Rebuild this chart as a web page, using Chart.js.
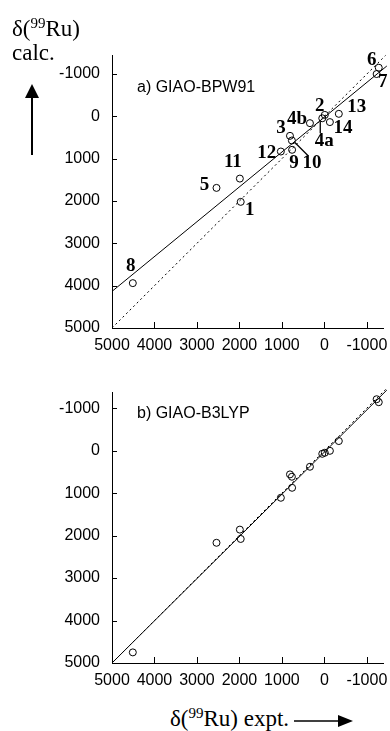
<!DOCTYPE html>
<html>
<head>
<meta charset="utf-8">
<script src="https://cdn.jsdelivr.net/npm/chart.js@4.4.1/dist/chart.umd.min.js"></script>
<style>
  body { margin: 0; background: #fff; }
  #page { position: relative; width: 390px; height: 731px; overflow: hidden; background: #fff; }
  canvas { position: absolute; left: 0; }
  #chartA { top: 0; }
  #chartB { top: 365px; }
  .axis-title { position: absolute; font-family: 'Liberation Serif', 'DejaVu Serif', serif; font-size: 23px; line-height: 22px; color: #000; white-space: nowrap; }
  .axis-title .sup { font-size: 15px; position: relative; top: -8px; }
  .panel { position: absolute; font-family: 'Liberation Sans', Arial, sans-serif; font-size: 16px; line-height: 16px; color: #000; white-space: nowrap; }
  svg { position: absolute; left: 0; top: 0; }
</style>
</head>
<body>
<div id="page">
  <canvas id="chartA" width="390" height="365"></canvas>
  <canvas id="chartB" width="390" height="335"></canvas>

  <div class="axis-title" style="left:12px; top:18px;">δ(<span class="sup">99</span>Ru)</div>
  <div class="axis-title" style="left:12px; top:42px;">calc.</div>
  <div class="axis-title" style="left:170px; top:708px;">δ(<span class="sup">99</span>Ru) expt.</div>

  <div class="panel" style="left:137px; top:79px;">a) GIAO-BPW91</div>
  <div class="panel" style="left:137px; top:405px;">b) GIAO-B3LYP</div>

  <svg width="390" height="731">
    <line x1="32" y1="155" x2="32" y2="97" stroke="#000" stroke-width="2"/>
    <polygon points="25,98 39,98 32,84" fill="#000"/>
    <line x1="294" y1="721" x2="339" y2="721" stroke="#000" stroke-width="1.5"/>
    <polygon points="338,715 338,727 353,721" fill="#000"/>
  </svg>
</div>

<script>
// Compounds, in the same order for both panels
const pointNames = ['6', '7', '2', '4a', '14', '13', '4b', '3', '10', '9', '12', '11', '5', '1', '8'];
const exptShift = [-1280, -1230, -10, 50, -130, -340, 340, 810, 765, 760, 1025, 1990, 2540, 1970, 4510];
const calcBPW91 = [-1150, -1000, -35, 45, 135, -60, 160, 460, 570, 790, 830, 1470, 1690, 2020, 3940];
const calcB3LYP = [-1140, -1210, 50, 75, 5, -225, 380, 560, 615, 875, 1110, 1860, 2170, 2080, 4750];

// Regression lines (end points) and the ideal y = x line
const fitBPW91X = [5000, -1470];
const fitBPW91Y = [4135, -1190];
const fitB3LYPX = [5000, -1470];
const fitB3LYPY = [5000, -1425];
const idealX = [5000, -1440];

const xTicks = [5000, 4000, 3000, 2000, 1000, 0, -1000];
const yTicks = [-1000, 0, 1000, 2000, 3000, 4000, 5000];

// where each compound number sits, in pixels from its circle
const nameOffsets = [[-7, -8], [6, 8], [-5, -9], [2, 23], [13, 6], [18, -7], [-13, -4], [-9, -8],
                     [20, 23], [2, 13], [-14, 2], [-7, -16], [-12, -3], [9, 8], [-2, -17]];
const leaders = { '4a': [-2, 3, -2, 15], '10': [3, 2, 16, 15] };

const tickFont = { family: "'Liberation Sans', Arial, sans-serif", size: 16 };

// tick marks pointing into the plot
const innerTicks = {
    id: 'innerTicks',
    afterDraw(chart) {
        const { ctx, chartArea: a, scales: { x, y } } = chart;
        ctx.save();
        ctx.strokeStyle = '#000';
        ctx.lineWidth = 1;
        ctx.beginPath();
        x.ticks.forEach(t => {
            const px = Math.round(x.getPixelForValue(t.value)) + 0.5;
            ctx.moveTo(px, a.bottom);
            ctx.lineTo(px, a.bottom - 6);
        });
        y.ticks.forEach(t => {
            const py = Math.round(y.getPixelForValue(t.value)) + 0.5;
            ctx.moveTo(a.left, py);
            ctx.lineTo(a.left + 5, py);
        });
        ctx.stroke();
        ctx.restore();
    }
};

// compound numbers next to the circles (panel a only)
const pointLabels = {
    id: 'pointLabels',
    afterDraw(chart, args, opts) {
        if (!opts.show) return;
        const { ctx, scales: { x, y } } = chart;
        ctx.save();
        ctx.fillStyle = '#000';
        ctx.strokeStyle = '#000';
        ctx.lineWidth = 1.3;
        ctx.font = "bold 19px 'Liberation Serif', serif";
        ctx.textAlign = 'center';
        ctx.textBaseline = 'middle';
        pointNames.forEach((name, i) => {
            const px = x.getPixelForValue(exptShift[i]);
            const py = y.getPixelForValue(calcBPW91[i]);
            const [dx, dy] = nameOffsets[i];
            ctx.fillText(name, px + dx, py + dy);
            const l = leaders[name];
            if (l) {
                ctx.beginPath();
                ctx.moveTo(px + l[0], py + l[1]);
                ctx.lineTo(px + l[2], py + l[3]);
                ctx.stroke();
            }
        });
        ctx.restore();
    }
};

function lineData(xs, ys) {
    return xs.map((v, i) => ({ x: v, y: ys[i] }));
}

function makePanel(id, calc, fitX, fitY, yMin, padTop, withLabels) {
    const ctx = document.getElementById(id).getContext('2d');
    return new Chart(ctx, {
        type: 'scatter',
        data: {
            datasets: [
                {
                    data: lineData(idealX, idealX),
                    showLine: true,
                    borderColor: '#000',
                    borderWidth: 1,
                    borderDash: [2, 3],
                    pointRadius: 0,
                    clip: false
                },
                {
                    data: lineData(fitX, fitY),
                    showLine: true,
                    borderColor: '#000',
                    borderWidth: 1,
                    pointRadius: 0,
                    clip: false
                },
                {
                    data: exptShift.map((v, i) => ({ x: v, y: calc[i] })),
                    pointStyle: 'circle',
                    pointRadius: 3.5,
                    pointHoverRadius: 3.5,
                    borderColor: '#000',
                    borderWidth: 1,
                    backgroundColor: 'rgba(0,0,0,0)'
                }
            ]
        },
        options: {
            responsive: false,
            animation: false,
            devicePixelRatio: 1,
            layout: { padding: { top: padTop, right: 7, bottom: 7, left: 0 } },
            plugins: {
                legend: { display: false },
                tooltip: { enabled: false },
                pointLabels: { show: withLabels }
            },
            scales: {
                x: {
                    type: 'linear',
                    reverse: true,
                    min: -1380,
                    max: 5000,
                    afterBuildTicks: s => { s.ticks = xTicks.map(v => ({ value: v })); },
                    afterFit: s => { s.height = 30; s.paddingLeft = 0; s.paddingRight = 0; },
                    grid: { display: false, drawTicks: false },
                    border: { display: true, color: '#000', width: 1 },
                    ticks: { color: '#000', font: tickFont, padding: 8, maxRotation: 0, autoSkip: false, callback: v => String(v) }
                },
                y: {
                    type: 'linear',
                    reverse: true,
                    min: yMin,
                    max: 5000,
                    afterBuildTicks: s => { s.ticks = yTicks.map(v => ({ value: v })); },
                    afterFit: s => { s.width = 112; s.paddingTop = 0; s.paddingBottom = 0; },
                    grid: { display: false, drawTicks: false },
                    border: { display: true, color: '#000', width: 1 },
                    ticks: { color: '#000', font: tickFont, padding: 12, autoSkip: false, callback: v => String(v) }
                }
            }
        },
        plugins: [innerTicks, pointLabels]
    });
}

makePanel('chartA', calcBPW91, fitBPW91X, fitBPW91Y, -1450, 55, true);
makePanel('chartB', calcB3LYP, fitB3LYPX, fitB3LYPY, -1380, 27, false);
</script>
</body>
</html>
